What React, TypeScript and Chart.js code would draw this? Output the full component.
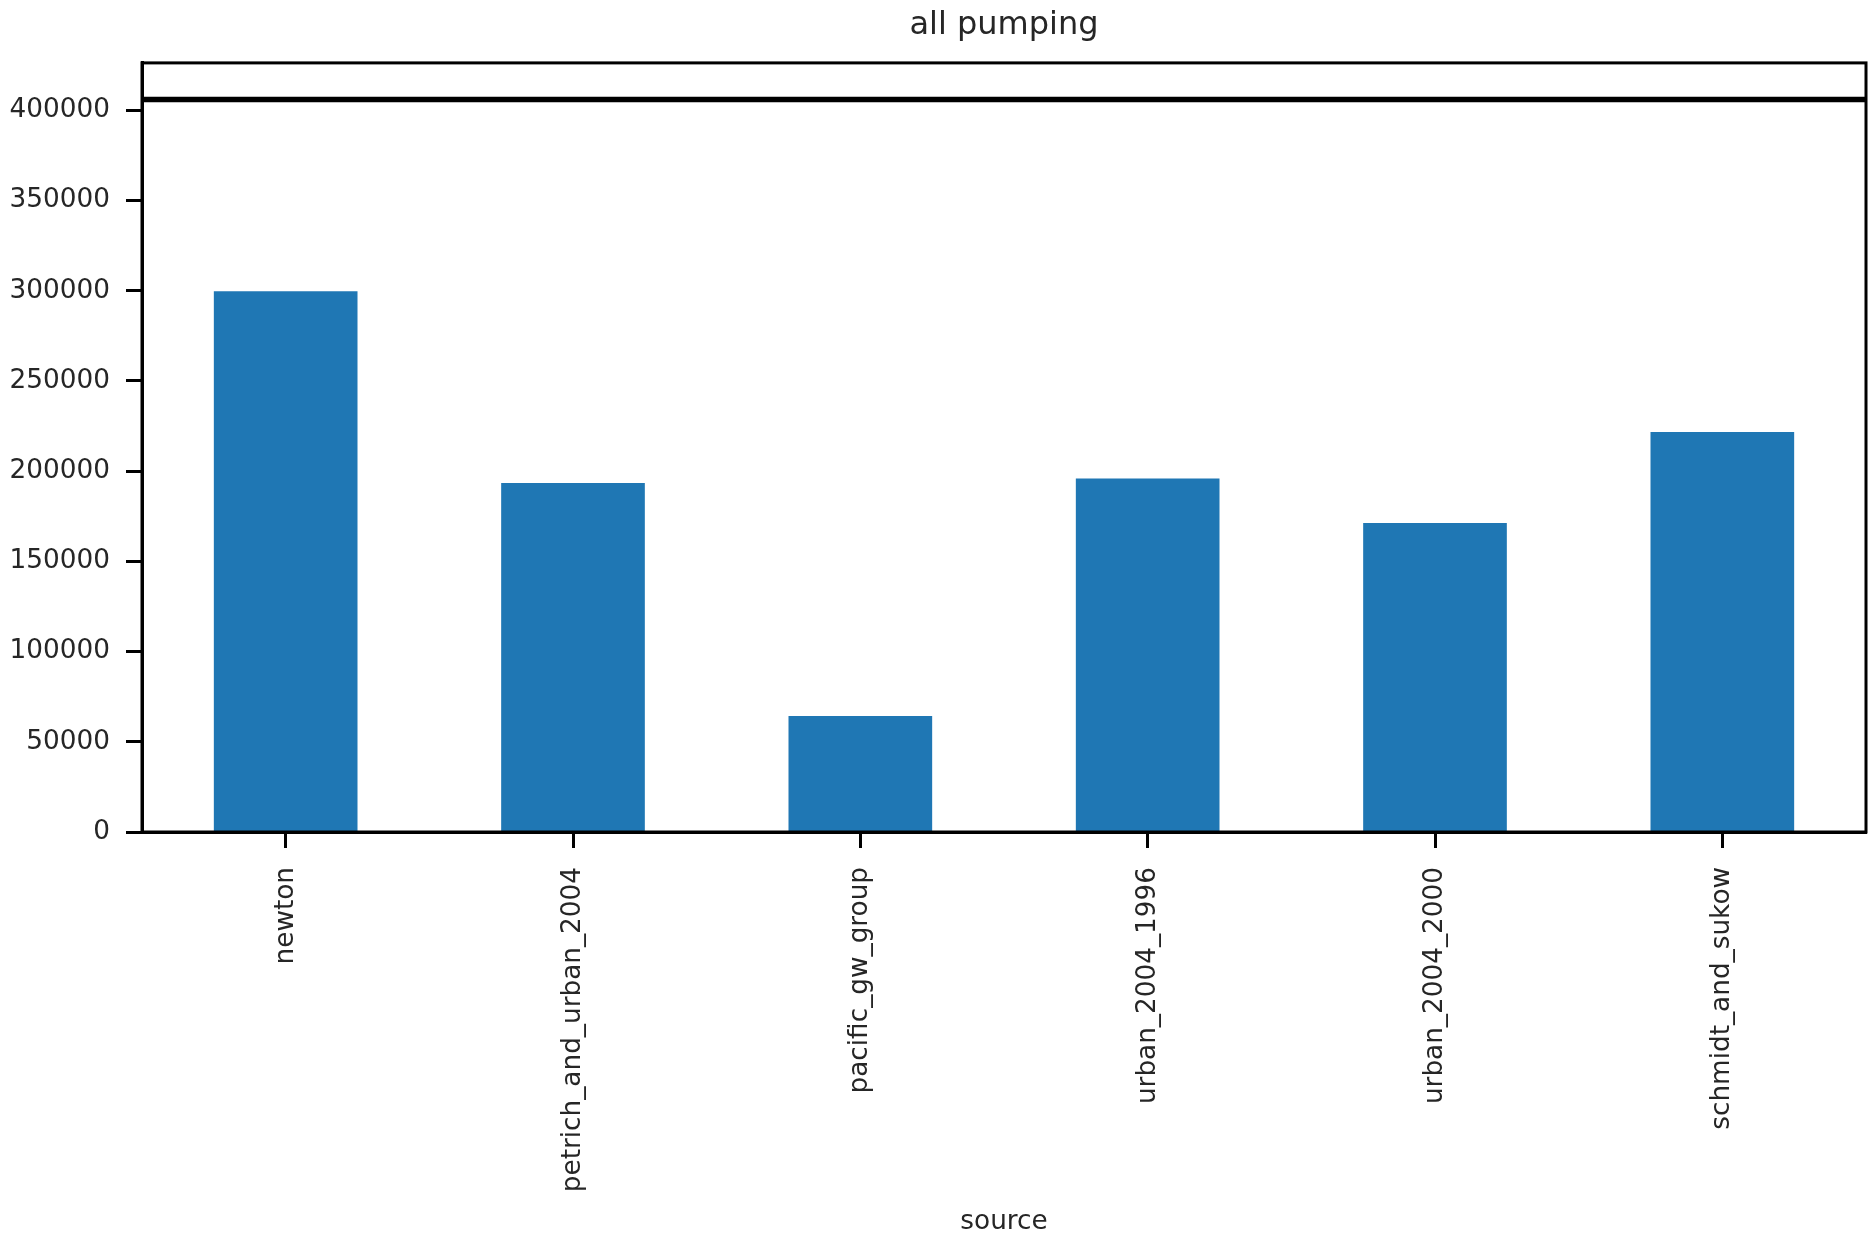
import React, { useEffect, useRef } from "react";
import { Chart, registerables } from "chart.js";

Chart.register(...registerables);

// Total pumping per data source
const categories = [
  "newton",
  "petrich_and_urban_2004",
  "pacific_gw_group",
  "urban_2004_1996",
  "urban_2004_2000",
  "schmidt_and_sukow",
];
const pumping = [299700, 193500, 64300, 196000, 171300, 221700];

// Horizontal reference level drawn across the full axis width
const referenceLevel = 406000;

// Y-axis tick values
const yTicks = [0, 50000, 100000, 150000, 200000, 250000, 300000, 350000, 400000];

const FONT = "'DejaVu Sans', sans-serif";
const TEXT = "#262626";
const EDGE = "#000000";
const BAR = "#1f77b4";
const TICK_SIZE = 26.3;

// Reference line across the axes, positioned with the y scale
const referenceLinePlugin = {
  id: "referenceLine",
  afterDatasetsDraw(chart: any) {
    const { ctx, chartArea: a, scales } = chart;
    const y = scales.y.getPixelForValue(referenceLevel);
    ctx.save();
    ctx.strokeStyle = EDGE;
    ctx.lineWidth = 5.5;
    ctx.beginPath();
    ctx.moveTo(a.left, y);
    ctx.lineTo(a.right, y);
    ctx.stroke();
    ctx.restore();
  },
};

// Closes the axes box (top and right spines)
const framePlugin = {
  id: "axesFrame",
  afterDraw(chart: any) {
    const { ctx, chartArea: a } = chart;
    ctx.save();
    ctx.strokeStyle = EDGE;
    ctx.lineWidth = 3;
    ctx.strokeRect(a.left, a.top, a.right - a.left, a.bottom - a.top);
    ctx.restore();
  },
};

export default function App() {
  const canvasRef = useRef<HTMLCanvasElement | null>(null);

  useEffect(() => {
    if (!canvasRef.current) return;

    const chart = new Chart(canvasRef.current, {
      type: "bar",
      data: {
        labels: categories,
        datasets: [
          {
            label: "all pumping",
            data: pumping,
            backgroundColor: BAR,
            borderWidth: 0,
            barPercentage: 0.5,
            categoryPercentage: 1.0,
          },
        ],
      },
      options: {
        animation: false,
        responsive: true,
        maintainAspectRatio: false,
        layout: { padding: { top: 0, right: 3, bottom: 0, left: 0 } },
        plugins: {
          legend: { display: false },
          tooltip: { enabled: false },
          title: {
            display: true,
            text: "all pumping",
            color: TEXT,
            fullSize: false,
            font: { family: FONT, size: 32, weight: "normal" },
            padding: { top: 6, bottom: 18.5 },
          },
        },
        scales: {
          x: {
            type: "category",
            offset: true,
            grid: {
              display: true,
              offset: false,
              drawOnChartArea: false,
              drawTicks: true,
              tickLength: 16,
              tickWidth: 3,
              tickColor: EDGE,
            },
            border: { display: true, color: EDGE, width: 3 },
            ticks: {
              autoSkip: false,
              minRotation: 90,
              maxRotation: 90,
              padding: 19,
              color: TEXT,
              font: { family: FONT, size: TICK_SIZE },
            },
            title: {
              display: true,
              text: "source",
              color: TEXT,
              font: { family: FONT, size: TICK_SIZE },
              padding: { top: 0, bottom: 2 },
            },
            afterFit(scale: any) {
              scale.height = 408;
            },
          },
          y: {
            type: "linear",
            min: 0,
            max: referenceLevel * 1.05,
            grid: {
              display: true,
              drawOnChartArea: false,
              drawTicks: true,
              tickLength: 16,
              tickWidth: 3,
              tickColor: EDGE,
            },
            border: { display: true, color: EDGE, width: 3 },
            ticks: {
              padding: 16,
              color: TEXT,
              font: { family: FONT, size: TICK_SIZE },
              callback: (v: any) => String(v),
            },
            afterBuildTicks(scale: any) {
              scale.ticks = yTicks.map((value) => ({ value }));
            },
            afterFit(scale: any) {
              scale.width = 142;
            },
          },
        },
      },
      plugins: [referenceLinePlugin, framePlugin],
    });

    return () => chart.destroy();
  }, []);

  return (
    <div
      style={{
        position: "fixed",
        left: 0,
        top: 0,
        width: 1869,
        height: 1240,
        background: "#ffffff",
      }}
    >
      <canvas ref={canvasRef} />
    </div>
  );
}
